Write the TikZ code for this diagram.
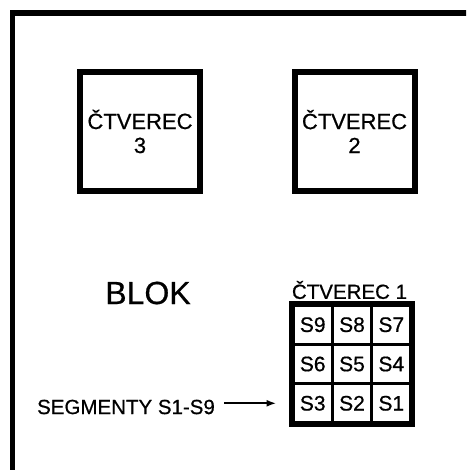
\documentclass[tikz,border=0pt]{standalone}
\usepackage{fontspec}
\setmainfont{Liberation Sans}[BoldFont=Liberation Sans, BoldFeatures={FakeBold=0.6}]
\usetikzlibrary{arrows.meta}
\tikzset{
  bigbox/.style={draw, line width=6pt, minimum width=120pt, minimum height=118pt, inner sep=0pt, align=center, font=\bfseries\fontsize{22}{24}\selectfont},
  cell/.style={draw, line width=3pt, minimum size=39.33pt, inner sep=0pt, font=\bfseries\fontsize{21}{22}\selectfont},
  lbl/.style={inner sep=0pt, font=\bfseries\fontsize{20.5}{22}\selectfont},
}
\begin{document}
\begin{tikzpicture}[x=1pt,y=-1pt]
\useasboundingbox (0,0) rectangle (466,470);
\fill[white] (0,0) rectangle (466,470);
\begin{scope}
\clip (0,0) rectangle (466,470);
\draw[line width=5.5pt] (12.5,480) -- (12.5,13) -- (480,13);
\end{scope}
\node[bigbox] (c3) at (140,131.5) {ČTVEREC\\3};
\node[bigbox] (c2) at (354.5,131.5) {ČTVEREC\\2};
\node[inner sep=0pt, font=\bfseries\fontsize{32}{34}\selectfont] (blok) at (148,293) {BLOK};
\node[lbl] (c1) at (349.5,290) {ČTVEREC 1};
\node[cell] (s9) at (312.7,324.7) {S9};
\node[cell] (s8) at (352,324.7) {S8};
\node[cell] (s7) at (391.3,324.7) {S7};
\node[cell] (s6) at (312.7,364) {S6};
\node[cell] (s5) at (352,364) {S5};
\node[cell] (s4) at (391.3,364) {S4};
\node[cell] (s3) at (312.7,403.3) {S3};
\node[cell] (s2) at (352,403.3) {S2};
\node[cell] (s1) at (391.3,403.3) {S1};
\draw[line width=6pt] (s9.north west) rectangle (s1.south east);
\node[lbl] (seg) at (126,407) {SEGMENTY S1-S9};
\draw[line width=2pt, -{Latex[length=10pt,width=7pt]}, shorten <=9pt, shorten >=15pt] (seg.east |- s3.west) -- (s3.west);
\end{tikzpicture}
\end{document}
